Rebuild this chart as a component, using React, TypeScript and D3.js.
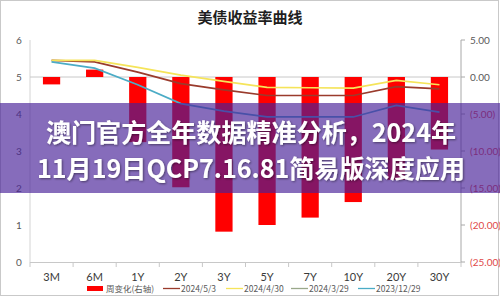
import React from "react";
import * as d3 from "d3";

const categories = ["3M", "6M", "1Y", "2Y", "3Y", "5Y", "7Y", "10Y", "20Y", "30Y"];
const weeklyChange = [-1.0, 1.0, -8.8, -14.9, -20.9, -20.0, -19.0, -16.9, -13.9, -9.8];
const yield20240503 = [5.45, 5.41, 5.13, 4.82, 4.65, 4.50, 4.50, 4.50, 4.74, 4.68];
const yield20240430 = [5.45, 5.45, 5.26, 5.05, 4.88, 4.72, 4.71, 4.70, 4.91, 4.79];
const yield20231229 = [5.41, 5.24, 4.79, 4.28, 4.08, 3.92, 3.92, 3.92, 4.23, 4.05];
const leftTicks = [0, 1, 2, 3, 4, 5, 6];
const rightTicks = [5, 0, -5, -10, -15, -20, -25];
const legendLabels = ["周变化(右轴)", "2024/5/3", "2024/4/30", "2024/3/29", "2023/12/29"];
const titleText = "美债收益率曲线";
const bannerLines = ["澳门官方全年数据精准分析，2024年", "11月19日QCP7.16.81简易版深度应用"];

const W = 500;
const H = 297;
const left = 30;
const right = 461;
const top = 40;
const bottom = 262;

const numFont = "Lato, 'Liberation Sans', 'Noto Sans CJK SC', sans-serif";
const cjkFont = "'Noto Sans CJK SC', sans-serif";

export default function App() {
  const x = d3.scaleBand<string>().domain(categories).range([left, right]).paddingInner(0.6).paddingOuter(0.3);
  const yL = d3.scaleLinear().domain([0, 6]).range([bottom, top]);
  const yR = d3.scaleLinear().domain([-25, 5]).range([bottom, top]);
  const bw = x.bandwidth();
  const step = x.step();
  const cx = (c: string) => (x(c) as number) + bw / 2;

  const line = d3
    .line<number>()
    .x((_, i) => cx(categories[i]))
    .y((d) => yL(d));

  const fmtR = (v: number) => (v < 0 ? `(${Math.abs(v).toFixed(2)})` : v.toFixed(2));

  const series = [
    { data: yield20240503, color: "#9a3b2c" },
    { data: yield20240430, color: "#f5e45a" },
    { data: yield20231229, color: "#4bacc6" },
  ];

  const legendColors = ["#ff0000", "#9a3b2c", "#f5e45a", "#9aa88a", "#4bacc6"];
  const legendX = [87, 163, 226, 291, 358];
  const bannerWidths = [410, 428];

  return (
    <svg
      width={W}
      height={H}
      style={{ position: "absolute", left: 0, top: 0, background: "#fff" }}
    >
      <defs>
        <filter id="ts" x="-5%" y="-20%" width="110%" height="140%">
          <feDropShadow dx="1" dy="1" stdDeviation="0.8" floodColor="#000" floodOpacity="0.45" />
        </filter>
      </defs>
      <rect x={0.5} y={0.5} width={W - 2} height={H - 2} fill="#fff" stroke="#c9c9c9" />
      <text
        x={250}
        y={23}
        textAnchor="middle"
        fontFamily={cjkFont}
        fontWeight={700}
        fontSize={15}
        fill="#1f1f1f"
      >
        {titleText}
      </text>

      {/* axes lines */}
      <line x1={left} x2={left} y1={top} y2={bottom} stroke="#d4d4d4" />
      <line x1={right} x2={right} y1={top} y2={bottom} stroke="#a8a8a8" />
      <line x1={left} x2={right} y1={bottom + 0.5} y2={bottom + 0.5} stroke="#c8c8c8" />
      <line x1={left} x2={right} y1={yR(0)} y2={yR(0)} stroke="#c8c8c8" />
      {d3.range(categories.length + 1).map((i) => (
        <line
          key={"xt" + i}
          x1={left + i * step}
          x2={left + i * step}
          y1={bottom}
          y2={bottom + 5}
          stroke="#c8c8c8"
        />
      ))}
      {rightTicks.map((t) => (
        <line key={"rt" + t} x1={right} x2={right + 4} y1={yR(t)} y2={yR(t)} stroke="#a8a8a8" />
      ))}

      {/* left labels */}
      {leftTicks.map((t) => (
        <text
          key={"lt" + t}
          x={19}
          y={yL(t) + 3.5}
          textAnchor="middle"
          fontFamily={numFont}
          fontSize={10}
          fill="#595959"
        >
          {t}
        </text>
      ))}
      {/* right labels */}
      {rightTicks.map((t) => (
        <text
          key={"rl" + t}
          x={470}
          y={yR(t) + 3.5}
          fontFamily={numFont}
          fontSize={10}
          fill={t < 0 ? "#e04848" : "#595959"}
        >
          {fmtR(t)}
        </text>
      ))}
      {/* category labels */}
      {categories.map((c) => (
        <text
          key={"c" + c}
          x={cx(c)}
          y={281}
          textAnchor="middle"
          fontFamily={numFont}
          fontSize={11}
          fill="#3a3a3a"
        >
          {c}
        </text>
      ))}

      {/* bars */}
      {categories.map((c, i) => {
        const v = weeklyChange[i];
        const y0 = yR(0);
        const y1 = yR(v);
        return (
          <rect
            key={"b" + c}
            x={x(c)}
            y={Math.min(y0, y1)}
            width={bw}
            height={Math.abs(y1 - y0)}
            fill="#ff0000"
          />
        );
      })}

      {/* lines */}
      {series.map((s, i) => (
        <path key={"s" + i} d={line(s.data) || ""} fill="none" stroke={s.color} strokeWidth={1.7} />
      ))}

      {/* legend */}
      {legendLabels.map((lab, i) => (
        <g key={"lg" + i}>
          {i === 0 ? (
            <rect x={legendX[i]} y={286} width={16} height={5} fill={legendColors[i]} />
          ) : (
            <line
              x1={legendX[i]}
              x2={legendX[i] + 17}
              y1={288.5}
              y2={288.5}
              stroke={legendColors[i]}
              strokeWidth={1.3}
            />
          )}
          <text
            x={legendX[i] + (i === 0 ? 19 : 18)}
            y={292}
            fontFamily={cjkFont}
            fontSize={8.5}
            fill="#595959"
          >
            {lab}
          </text>
        </g>
      ))}

      {/* banner overlay */}
      <rect x={0} y={103} width={W} height={90} fill="rgb(72,32,152)" fillOpacity={0.66} />
      {bannerLines.map((t, i) => (
        <text
          key={"bn" + i}
          x={251}
          y={142 + i * 36}
          textAnchor="middle"
          fontFamily={cjkFont}
          fontWeight={700}
          fontSize={25.5}
          fill="#ffffff"
          filter="url(#ts)"
          textLength={bannerWidths[i]}
          lengthAdjust="spacingAndGlyphs"
        >
          {t}
        </text>
      ))}
    </svg>
  );
}
